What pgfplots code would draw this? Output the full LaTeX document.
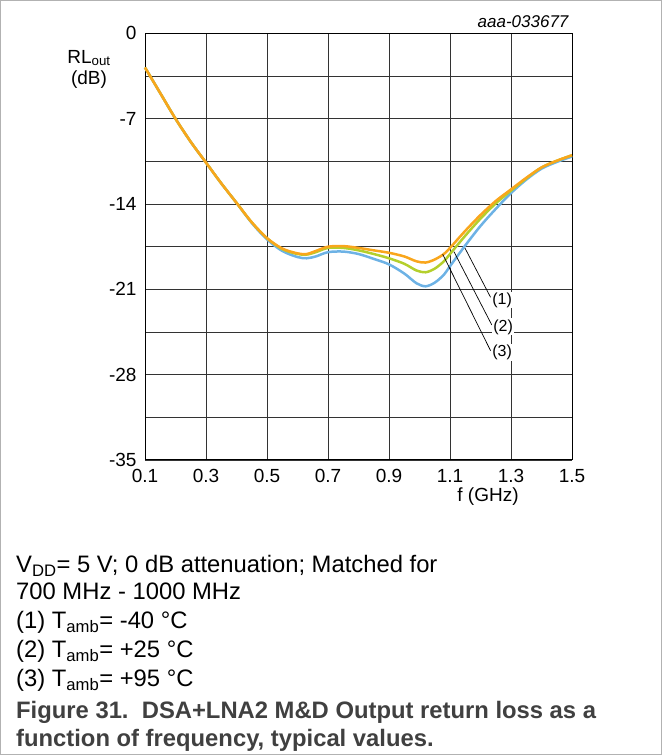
\documentclass[border=0pt]{standalone}
\usepackage{fontspec}
\setmainfont{Liberation Sans}
\usepackage{pgfplots}
\pgfplotsset{compat=1.18}
\definecolor{cOrange}{HTML}{F9A61C}
\definecolor{cGreen}{HTML}{B4CF2C}
\definecolor{cBlue}{HTML}{6DB2E5}
\definecolor{capgray}{HTML}{404040}

\begin{document}
\begin{tikzpicture}
\useasboundingbox (0pt,0pt) rectangle (662pt,755pt);
\draw[black!30, line width=1pt] (0.5pt,0.5pt) rectangle (661.5pt,754.5pt);
\begin{axis}[
  at={(145pt,295pt)}, anchor=south west,
  scale only axis, width=427pt, height=426.6pt,
  xmin=0.1, xmax=1.5, ymin=-35, ymax=0,
  xtick={0.1,0.3,0.5,0.7,0.9,1.1,1.3,1.5},
  xticklabels={0.1,0.3,0.5,0.7,0.9,1.1,1.3,1.5},
  ytick={-35,-28,-21,-14,-7,0},
  yticklabels={-35,-28,-21,-14,-7,0},
  minor ytick={-31.5,-24.5,-17.5,-10.5,-3.5},
  grid=both,
  major grid style={black!80, line width=0.8pt},
  minor grid style={black!80, line width=0.8pt},
  major tick length=0pt, minor tick length=0pt,
  axis line style={black, line width=1pt},
  ticklabel style={font=\fontsize{19}{22}\selectfont},
  xticklabel style={yshift=-6pt},
  yticklabel style={xshift=-5pt},
  clip=false,
]
% (1) Tamb = -40 C
\addplot[cBlue, line width=2.5pt, smooth] coordinates {
(0.10,-2.8) (0.15,-4.9) (0.20,-7.0) (0.25,-8.9) (0.30,-10.6) (0.35,-12.3)
(0.40,-13.9) (0.45,-15.55) (0.50,-16.9) (0.55,-17.85) (0.60,-18.35) (0.63,-18.45)
(0.66,-18.3) (0.70,-17.95) (0.75,-17.9) (0.80,-18.1) (0.85,-18.5) (0.90,-18.95)
(0.95,-19.7) (0.99,-20.5) (1.02,-20.75) (1.05,-20.45) (1.08,-19.8) (1.10,-19.1)
(1.15,-17.4) (1.20,-15.8) (1.25,-14.4) (1.30,-13.1) (1.35,-12.0) (1.40,-11.1)
(1.45,-10.55) (1.50,-10.1)};
% (2) Tamb = +25 C
\addplot[cGreen, line width=2.5pt, smooth] coordinates {
(0.10,-2.8) (0.15,-4.9) (0.20,-7.0) (0.25,-8.9) (0.30,-10.6) (0.35,-12.3)
(0.40,-13.9) (0.45,-15.5) (0.50,-16.8) (0.55,-17.7) (0.60,-18.1) (0.63,-18.15)
(0.66,-17.95) (0.70,-17.6) (0.75,-17.6) (0.80,-17.8) (0.85,-18.1) (0.90,-18.45)
(0.95,-18.9) (0.99,-19.45) (1.02,-19.6) (1.05,-19.3) (1.08,-18.7) (1.10,-18.1)
(1.15,-16.6) (1.20,-15.2) (1.25,-13.95) (1.30,-12.9) (1.35,-11.9) (1.40,-11.0)
(1.45,-10.45) (1.50,-10.0)};
% (3) Tamb = +95 C
\addplot[cOrange, line width=2.5pt, smooth] coordinates {
(0.10,-2.8) (0.15,-4.9) (0.20,-7.0) (0.25,-8.9) (0.30,-10.6) (0.35,-12.3)
(0.40,-13.9) (0.45,-15.5) (0.50,-16.8) (0.55,-17.65) (0.60,-18.05) (0.63,-18.1)
(0.66,-17.85) (0.70,-17.5) (0.75,-17.45) (0.80,-17.6) (0.85,-17.8) (0.90,-18.0)
(0.95,-18.3) (0.99,-18.7) (1.02,-18.8) (1.05,-18.55) (1.08,-18.1) (1.10,-17.6)
(1.15,-16.2) (1.20,-14.9) (1.25,-13.75) (1.30,-12.8) (1.35,-11.85) (1.40,-11.0)
(1.45,-10.45) (1.50,-10.0)};
% leader lines and callouts
\draw[black, line width=0.7pt] (axis cs:1.149,-17.61) -- (axis cs:1.233,-21.65);
\draw[black, line width=0.7pt] (axis cs:1.113,-17.91) -- (axis cs:1.237,-23.92);
\draw[black, line width=0.7pt] (axis cs:1.076,-18.12) -- (axis cs:1.233,-26.03);
\node[anchor=west, fill=white, inner sep=1pt, font=\fontsize{16}{18}\selectfont] at (axis cs:1.235,-21.87) {(1)};
\node[anchor=west, fill=white, inner sep=1pt, font=\fontsize{16}{18}\selectfont] at (axis cs:1.238,-24.08) {(2)};
\node[anchor=west, fill=white, inner sep=1pt, font=\fontsize{16}{18}\selectfont] at (axis cs:1.235,-26.21) {(3)};
\end{axis}
% labels around the axis
\node[anchor=east, font=\fontsize{17}{20}\selectfont\itshape] at (572pt,733pt) {aaa-033677};
\node[font=\fontsize{19}{22}\selectfont] at (89pt,697pt) {RL\textsubscript{out}};
\node[font=\fontsize{19}{22}\selectfont] at (89pt,675pt) {(dB)};
\node[font=\fontsize{19}{22}\selectfont] at (488pt,258pt) {f (GHz)};
% notes
\begin{scope}[every node/.style={anchor=base west, inner sep=0pt, font=\fontsize{23.8}{27}\selectfont}]
\node at (16pt,182pt) {V\textsubscript{DD}= 5 V; 0 dB attenuation; Matched for};
\node at (16pt,155pt) {700 MHz - 1000 MHz};
\node at (16pt,126pt) {(1) T\textsubscript{amb}= -40 °C};
\node at (16pt,97pt) {(2) T\textsubscript{amb}= +25 °C};
\node at (16pt,68pt) {(3) T\textsubscript{amb}= +95 °C};
\node[text=capgray, font=\fontsize{23.8}{27}\selectfont\bfseries] at (16pt,36pt) {Figure 31.\ \ DSA+LNA2 M\&D Output return loss as a};
\node[text=capgray, font=\fontsize{23.8}{27}\selectfont\bfseries] at (16pt,9pt) {function of frequency, typical values.};
\end{scope}
\end{tikzpicture}
\end{document}
